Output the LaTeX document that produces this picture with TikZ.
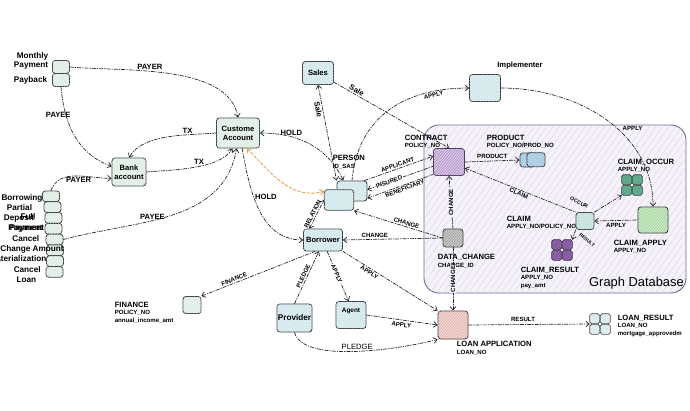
\documentclass[tikz,border=0pt]{standalone}
\usepackage{fontspec}
\setmainfont{Liberation Sans}
\usetikzlibrary{arrows.meta,patterns.meta}

\definecolor{boxline}{HTML}{3A3A3A}
\definecolor{mintF}{HTML}{EAF4EE}
\definecolor{mintH}{HTML}{CFE3D6}
\definecolor{cyanF}{HTML}{E1F0F2}
\definecolor{cyanH}{HTML}{BCDCE1}
\definecolor{ctrF}{HTML}{D9C6E6}
\definecolor{ctrH}{HTML}{9C7BB7}
\definecolor{ctrL}{HTML}{4B3B5E}
\definecolor{prodF}{HTML}{BCD9EB}
\definecolor{prodH}{HTML}{86B5D3}
\definecolor{occF}{HTML}{6AB497}
\definecolor{occH}{HTML}{3E8C6E}
\definecolor{aplF}{HTML}{CBE9C6}
\definecolor{aplH}{HTML}{8CC886}
\definecolor{clmF}{HTML}{D3EAE6}
\definecolor{clmH}{HTML}{B2D6CF}
\definecolor{resF}{HTML}{9467B0}
\definecolor{resH}{HTML}{66408A}
\definecolor{chgF}{HTML}{C9C9C9}
\definecolor{chgH}{HTML}{8A8A8A}
\definecolor{loanF}{HTML}{F3D5D1}
\definecolor{loanH}{HTML}{D6A29B}
\definecolor{lresF}{HTML}{E9F1F3}
\definecolor{dbF}{HTML}{F5F2FA}
\definecolor{dbH}{HTML}{DCD5E8}
\definecolor{dbL}{HTML}{6F6592}
\definecolor{orng}{HTML}{E2A044}

\tikzset{
  ent/.style={draw=boxline, line width=0.7pt, rounded corners=2.5pt, fill=#1,
    inner sep=0.5pt, align=center, font=\bfseries\fontsize{6.5}{7.5}\selectfont},
  hatch/.style={postaction={pattern={Lines[angle=50,distance=1.7pt,line width=0.3pt]},
    pattern color=#1}},
  cell/.style={draw=boxline, line width=0.6pt, rounded corners=1.5pt, fill=#1,
    minimum size=3mm, inner sep=0pt},
  ttl/.style={font=\bfseries\fontsize{6.5}{7}\selectfont, inner sep=0.5pt, anchor=west},
  sub/.style={font=\bfseries\fontsize{5.2}{5.5}\selectfont, inner sep=0.5pt, anchor=west},
  rel/.style={draw=black!85, line width=0.6pt,
    dash pattern=on 3pt off 1.3pt on 0.7pt off 1.3pt, ->},
  orel/.style={draw=orng, line width=0.7pt, dash pattern=on 2.5pt off 1.5pt, ->},
  lbl/.style={font=\bfseries\fontsize{5.2}{5.5}\selectfont, inner sep=1pt},
  blbl/.style={font=\bfseries\fontsize{6.5}{7}\selectfont, inner sep=1pt},
}

% four small cells round one invisible node
\newcommand\quadent[4]{%
  \node[minimum size=6mm, inner sep=0pt] (#1) at #2 {};
  \foreach \a in {north east,north west,south east,south west}
    \node[cell=#3, hatch=#4, anchor=\a] at (#1.center) {};
}

\begin{document}
\begin{tikzpicture}[x=0.3mm,y=-0.3mm,line cap=round,line join=round,
    >={Straight Barb[length=3pt,width=5pt]}]
  \useasboundingbox (0,0) rectangle (690,411);

  % graph database frame
  \draw[dbL, line width=0.8pt, fill=dbF, rounded corners=4.5mm,
        postaction={pattern={Lines[angle=55,distance=4.5pt,line width=0.35pt]}, pattern color=dbH}]
    (424,125) rectangle (686,293);
  \node[font=\fontsize{11}{12}\selectfont, anchor=east, inner sep=0pt] (dbname) at (684,283) {Graph Database};

  % left side sources
  \node[ent=mintF, hatch=mintH, minimum width=5.1mm, minimum height=3.9mm] (monthly) at (61,67) {};
  \node[ent=mintF, hatch=mintH, minimum width=5.1mm, minimum height=3.9mm] (payback) at (61,80) {};
  \node[ttl, anchor=east, align=right, font=\bfseries\fontsize{7}{7.8}\selectfont] (monthlytx) at (49,60.5) {Monthly\\Payment};
  \node[ttl, anchor=east, font=\bfseries\fontsize{7}{7.8}\selectfont] (paybacktx) at (48,80) {Payback};

  \foreach \i/\x in {1/51,2/52.5,3/53.5,4/53.5,5/54.5,6/55,7/55,8/54.5}
    \node[ent=mintF, hatch=mintH, minimum width=5.1mm, minimum height=3.2mm] (stack\i) at (\x,{185.5+10.8*\i}) {};
  \foreach \t/\x/\y [count=\k] in {Borrowing/22/198, Partial/19.5/208, Deposit/19/218, Full/28/217,
      Payment/25.5/229, Payment/27/228.5, Cancel/25.8/239, Change Amount/32/249,
      Materialization/18/259, Cancel/27.2/270, Loan/26.3/280}
    \node[font=\bfseries\fontsize{7}{7}\selectfont, inner sep=0pt] (stklbl\k) at (\x,\y) {\t};

  \node[ent=mintF, hatch=mintH, minimum width=10.2mm, minimum height=8.4mm] (bank) at (129,172) {Bank\\account};
  \node[ent=mintF, hatch=mintH, minimum width=12.9mm, minimum height=9mm] (cust) at (238,133) {Custome\\Account};

  % people
  \node[ent=cyanF, hatch=cyanH, minimum width=9.3mm, minimum height=6.9mm] (sales) at (318,73) {Sales};
  \node[ent=cyanF, hatch=cyanH, minimum width=9.3mm, minimum height=8.1mm] (impl) at (485,88) {};
  \node[ttl, anchor=center] (impltx) at (520,66) {Implementer};
  \node[ent=cyanF, hatch=cyanH, minimum width=9mm, minimum height=6mm] (person2) at (352,191) {};
  \node[ent=cyanF, hatch=cyanH, minimum width=8.8mm, minimum height=6.2mm] (person1) at (339,200) {};
  \node[ttl] (persontx) at (332,158) {PERSON};
  \node[sub] (personsub) at (332,166.5) {ID\_SAS};
  \node[ent=cyanF, hatch=cyanH, minimum width=11.7mm, minimum height=6.6mm] (borrower) at (323,240) {Borrower};
  \node[ent=cyanF, hatch=cyanH, minimum width=10.5mm, minimum height=8.4mm,
        font=\bfseries\fontsize{7}{8}\selectfont] (provider) at (294.5,318) {Provider};
  \node[ent=cyanF, hatch=cyanH, minimum width=9mm, minimum height=8.1mm] (agent) at (351,315) {};
  \node[font=\bfseries\fontsize{5.5}{6}\selectfont, inner sep=0pt] (agenttx) at ([yshift=1.2mm]agent.center) {Agent};

  % finance
  \node[ent=mintF, hatch=mintH, minimum width=5.4mm, minimum height=5.1mm] (finance) at (192,305) {};
  \node[ttl] (financetx) at (114,304.5) {FINANCE};
  \node[sub] (financesub) at (114,313) {POLICY\_NO};
  \node[sub] (financesub2) at (114,321) {annual\_income\_amt};

  % graph database entities
  \node[ent=ctrF, hatch=ctrH, draw=ctrL, minimum width=9.3mm, minimum height=8.1mm] (contract) at (449,162) {};
  \node[ttl] (contracttx) at (404,138) {CONTRACT};
  \node[sub] (contractsub) at (404,146) {POLICY\_NO};
  \node[ent=prodF, hatch=prodH, minimum width=4.5mm, minimum height=4.2mm] (prodA) at (527.5,160) {};
  \node[ent=prodF, hatch=prodH, minimum width=5.4mm, minimum height=4.2mm] (prodB) at (536,159.7) {};
  \node[ttl] (producttx) at (486,138) {PRODUCT};
  \node[sub] (productsub) at (486,146) {POLICY\_NO/PROD\_NO};
  \quadent{occur}{(632,185)}{occF}{occH}
  \node[ttl] (occurtx) at (617,162) {CLAIM\_OCCUR};
  \node[sub] (occursub) at (617,170) {APPLY\_NO};
  \node[ent=aplF, hatch=aplH, minimum width=9mm, minimum height=7.8mm] (capply) at (653,220) {};
  \node[ttl] (capplytx) at (613,243) {CLAIM\_APPLY};
  \node[sub] (capplysub) at (613,251) {APPLY\_NO};
  \node[ent=clmF, hatch=clmH, minimum width=5.4mm, minimum height=5.1mm] (claim) at (585,221) {};
  \node[ttl] (claimtx) at (506,219) {CLAIM};
  \node[sub] (claimsub) at (506,227) {APPLY\_NO/POLICY\_NO};
  \quadent{cresult}{(562,250)}{resF}{resH}
  \node[ttl] (cresulttx) at (520,270) {CLAIM\_RESULT};
  \node[sub] (cresultsub) at (520,278) {APPLY\_NO};
  \node[sub] (cresultsub2) at (520,286) {pay\_amt};
  \node[ent=chgF, hatch=chgH, minimum width=6mm, minimum height=5.4mm] (dchange) at (453,238) {};
  \node[ttl] (dchangetx) at (437,257) {DATA\_CHANGE};
  \node[sub] (dchangesub) at (437,265.5) {CHANGE\_ID};

  % loan
  \node[ent=loanF, hatch=loanH, minimum width=9mm, minimum height=8.4mm] (loan) at (453,325) {};
  \node[ttl] (loantx) at (456,344) {LOAN APPLICATION};
  \node[sub] (loansub) at (456,352.5) {LOAN\_NO};
  \quadent{lresult}{(600,324)}{lresF}{cyanH}
  \node[ttl] (lresulttx) at (617,318) {LOAN\_RESULT};
  \node[sub] (lresultsub) at (617,326) {LOAN\_NO};
  \node[sub] (lresultsub2) at (617,333.5) {mortgage\_approvedm};

  % accounts
  \draw[rel] (monthly.east) to[out=-5,in=100,looseness=0.8] node[blbl,pos=0.4,above] {PAYER} (cust.north);
  \draw[rel] (payback.south) to[out=-85,in=160] node[blbl,pos=0.27,xshift=-2.3mm] {PAYEE} (bank.162);
  \draw[rel] (stack1.north) to[out=70,in=180] node[blbl,pos=0.55,below] {PAYER} (bank.200);
  \draw[rel] (cust.west) to[out=185,in=60,looseness=0.8] node[blbl,pos=0.3,above] {TX} (bank.north);
  \draw[rel] (bank.east) to[out=5,in=-120,looseness=0.7] node[blbl,pos=0.55,above] {TX} (cust.250);
  \draw[rel] (stack5.east) to[out=15,in=-100] node[blbl,pos=0.4,above=0pt] {PAYEE} (cust.265);
  \draw[rel] (cust.285) to[out=-80,in=180] node[blbl,pos=0.38,right] {HOLD} (borrower.west);
  \draw[rel,<->] (cust.east) to[out=0,in=115] node[blbl,pos=0.3,above] {HOLD} (person2.130);
  \draw[orel,<->] (cust.300) to[out=-45,in=195] (person1.150);

  % person and sales
  \draw[rel,<->] (sales.south) -- node[blbl,sloped,below,pos=0.25] {Sale} (person2.north west);
  \draw[rel] (sales.-30) -- node[blbl,sloped,above,pos=0.18] {Sale} (contract.north);
  \draw[rel] (person2.north) to[out=85,in=180,looseness=1.1] node[lbl,pos=0.8,below,sloped] {APPLY} (impl.west);
  \draw[rel] (impl.east) to[out=0,in=90] node[lbl,pos=0.6,above right] {APPLY} (capply.north);
  \draw[rel] (person2.40) -- node[lbl,sloped,above=0pt,pos=0.5] {APPLICANT} (contract.160);
  \draw[rel,<-] (person2.5) -- node[lbl,sloped,fill=white,inner sep=0.5pt,pos=0.33] {INSURED} (contract.195);
  \draw[rel,<-] (person2.-25) -- node[lbl,sloped,below=0pt,pos=0.55] {BENEFICIARY} (contract.218);
  \draw[rel,<->] (borrower.140) -- node[lbl,sloped,above,pos=0.45] {RELATION} (person1.west);

  % changes
  \draw[rel,<-] (person1.south east) -- node[lbl,sloped,above,pos=0.58] {CHANGE} (dchange.west);
  \draw[rel,<-] (borrower.east) -- node[lbl,above,pos=0.32] {CHANGE} (dchange.west);
  \draw[rel] (dchange.north) -- node[lbl,rotate=90,fill=dbF,pos=0.5] {CHANGE} (contract.south);
  \draw[rel] (dchange.south) -- node[lbl,rotate=90,fill=dbF,pos=0.5] {CHANGE} (loan.north);

  % borrower and loan
  \draw[rel] (borrower.south east) -- node[lbl,sloped,below,pos=0.3] {APPLY} (loan.north west);
  \draw[rel,<-] (finance.north east) -- node[lbl,sloped,above,pos=0.3] {FINANCE} (borrower.235);
  \draw[rel] (provider.north) -- node[lbl,sloped,above,pos=0.5] {PLEDGE} (borrower.250);
  \draw[rel] (borrower.290) -- node[lbl,sloped,fill=white,inner sep=0.5pt,pos=0.45] {APPLY} (agent.100);
  \draw[rel] (agent.east) -- node[lbl,sloped,below=1pt,pos=0.5] {APPLY} (loan.west);
  \draw[rel] (provider.south) to[out=-75,in=195,looseness=0.6]
    node[pos=0.5,above,inner sep=1pt,font=\fontsize{6.5}{7}\selectfont] {PLEDGE} (loan.south west);
  \draw[rel] (loan.east) -- node[lbl,above=1.5pt,pos=0.45] {RESULT} (lresult.west);

  % claims
  \draw[rel] (contract.east) -- node[lbl,above=1pt] {PRODUCT} (prodA.west);
  \draw[rel,<-] (contract.-21) -- node[lbl,sloped,below,pos=0.5] {CLAIM} (claim.north west);
  \draw[rel] (claim.north east) -- (occur.south west);
  \node[font=\bfseries\fontsize{4.5}{5}\selectfont, rotate=-28, inner sep=0pt] (occurlbl)
    at ([xshift=-4.6mm,yshift=2.85mm]claim.north east) {OCCUR};
  \draw[rel,<-] (claim.east) -- node[lbl,below=1pt] {APPLY} (capply.west);
  \draw[rel] (claim.south west) -- (cresult.north east);
  \node[font=\bfseries\fontsize{4}{4.5}\selectfont, rotate=-40, inner sep=0pt] (resultlbl) at (587,240) {RESULT};

\end{tikzpicture}
\end{document}
